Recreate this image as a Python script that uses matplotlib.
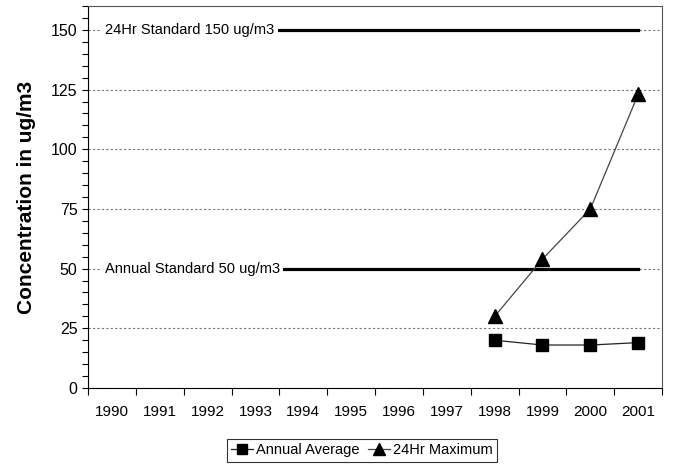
import numpy as np
import matplotlib.pyplot as plt
from matplotlib.ticker import MultipleLocator

years = ['1990', '1991', '1992', '1993', '1994', '1995', '1996',
         '1997', '1998', '1999', '2000', '2001']
data_years = ['1998', '1999', '2000', '2001']
annual_avg = [20, 18, 18, 19]
max_24hr = [30, 54, 75, 123]
std_24hr = 150
std_annual = 50
std_24hr_label = '24Hr Standard 150 ug/m3'
std_annual_label = 'Annual Standard 50 ug/m3'

plt.rcParams['font.family'] = ['Liberation Sans', 'DejaVu Sans']

fig = plt.figure(figsize=(6.73, 4.66), dpi=100)
ax = fig.add_axes([0.1308, 0.1674, 0.853, 0.8197])

pos = {y: i for i, y in enumerate(years)}
xd = [pos[y] for y in data_years]
xs = np.arange(len(years))

ax.plot(xs, [std_24hr] * len(years), color='black', lw=2.3, zorder=3)
ax.plot(xs, [std_annual] * len(years), color='black', lw=2.3, zorder=3)

ax.plot(xd, annual_avg, color='#222222', lw=0.9, marker='s', ms=9,
        mfc='black', mec='black', label='Annual Average', zorder=4)
ax.plot(xd, max_24hr, color='#444444', lw=0.9, marker='^', ms=10,
        mfc='black', mec='black', label='24Hr Maximum', zorder=4)

box = dict(facecolor='white', edgecolor='none', pad=2.5)
ax.text(-0.15, std_24hr, std_24hr_label, fontsize=10.5, va='center', ha='left',
        bbox=box, zorder=5)
ax.text(-0.15, std_annual, std_annual_label, fontsize=10.5, va='center', ha='left',
        bbox=box, zorder=5)

ax.set_xlim(-0.5, len(years) - 0.5)
ax.set_ylim(0, 160)
ax.set_xticks(np.arange(len(years) + 1) - 0.5)
ax.set_xticklabels([])
ax.set_xticks(xs, minor=True)
ax.set_xticklabels(years, minor=True, fontsize=11)
ax.tick_params(axis='x', which='minor', length=0, pad=12)
ax.tick_params(axis='x', which='major', length=5, direction='out', width=0.8)

ax.yaxis.set_major_locator(MultipleLocator(25))
ax.yaxis.set_minor_locator(MultipleLocator(5))
ax.tick_params(axis='y', which='both', length=4, direction='out', width=0.8,
               labelsize=11.5)
ax.grid(axis='y', which='major', color='#777777', ls=(0, (2, 2)), lw=0.8)
ax.set_axisbelow(True)

for s in ['top', 'right']:
    ax.spines[s].set_color('#555555')
    ax.spines[s].set_linewidth(0.8)

ax.set_ylabel('Concentration in ug/m3', fontsize=15, fontweight='bold',
              labelpad=11)

leg = fig.legend(loc='center', bbox_to_anchor=(0.538, 0.034), ncol=2,
                 frameon=True, fancybox=False, fontsize=10.5, handlelength=1.5,
                 handletextpad=0.2, columnspacing=0.6, borderpad=0.3,
                 markerscale=0.8)
leg.get_frame().set_edgecolor('black')
leg.get_frame().set_linewidth(0.8)

fig.savefig('out.png', dpi=100)
